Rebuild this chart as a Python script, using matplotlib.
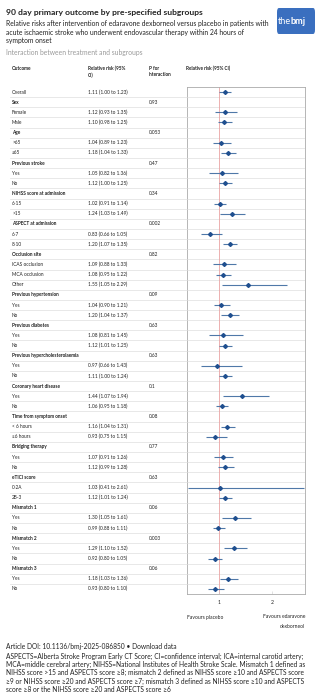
import numpy as np
import matplotlib
matplotlib.use("Agg")
import matplotlib.pyplot as plt
from matplotlib import transforms
from matplotlib.patches import FancyBboxPatch
from matplotlib.lines import Line2D

plt.rcParams['font.family'] = ['Lato', 'DejaVu Sans']

# ---------------- data ----------------
row_labels = ["Overall", "Sex", "Female", "Male", "Age", ">65", "≤65",
              "Previous stroke", "Yes", "No",
              "NIHSS score at admission", "6-15", ">15",
              "ASPECT at admission", "6-7", "8-10",
              "Occlusion site", "ICAS occlusion", "MCA occlusion", "Other",
              "Previous hypertension", "Yes", "No",
              "Previous diabetes", "Yes", "No",
              "Previous hypercholesterolaemia", "Yes", "No",
              "Coronary heart disease", "Yes", "No",
              "Time from symptom onset", "< 6 hours", "≥6 hours",
              "Bridging therapy", "Yes", "No",
              "eTICI score", "0-2A", "2B-3",
              "Mismatch 1", "Yes", "No",
              "Mismatch 2", "Yes", "No",
              "Mismatch 3", "Yes", "No"]
is_header = [False, True, False, False, True, False, False,
             True, False, False,
             True, False, False,
             True, False, False,
             True, False, False, False,
             True, False, False,
             True, False, False,
             True, False, False,
             True, False, False,
             True, False, False,
             True, False, False,
             True, False, False,
             True, False, False,
             True, False, False,
             True, False, False]
nan = np.nan
rr = [1.11, nan, 1.12, 1.10, nan, 1.04, 1.18, nan, 1.05, 1.12,
      nan, 1.02, 1.24, nan, 0.83, 1.20, nan, 1.09, 1.08, 1.55,
      nan, 1.04, 1.20, nan, 1.08, 1.12, nan, 0.97, 1.11, nan, 1.44, 1.06,
      nan, 1.16, 0.93, nan, 1.07, 1.12, nan, 1.03, 1.12,
      nan, 1.30, 0.99, nan, 1.29, 0.92, nan, 1.18, 0.93]
ci_low = [1.00, nan, 0.93, 0.98, nan, 0.89, 1.04, nan, 0.82, 1.00,
          nan, 0.91, 1.03, nan, 0.66, 1.07, nan, 0.88, 0.95, 1.05,
          nan, 0.90, 1.04, nan, 0.81, 1.01, nan, 0.66, 1.00, nan, 1.07, 0.95,
          nan, 1.04, 0.75, nan, 0.91, 0.99, nan, 0.41, 1.01,
          nan, 1.05, 0.88, nan, 1.10, 0.80, nan, 1.03, 0.80]
ci_high = [1.23, nan, 1.35, 1.25, nan, 1.23, 1.33, nan, 1.36, 1.25,
           nan, 1.14, 1.49, nan, 1.05, 1.35, nan, 1.33, 1.22, 2.29,
           nan, 1.21, 1.37, nan, 1.45, 1.25, nan, 1.43, 1.24, nan, 1.94, 1.18,
           nan, 1.31, 1.15, nan, 1.26, 1.28, nan, 2.61, 1.24,
           nan, 1.61, 1.11, nan, 1.52, 1.05, nan, 1.36, 1.10]
p_interaction = ["", "0.93", "", "", "0.053", "", "", "0.47", "", "",
                 "0.34", "", "", "0.002", "", "", "0.82", "", "", "",
                 "0.09", "", "", "0.63", "", "", "0.63", "", "", "0.1", "", "",
                 "0.08", "", "", "0.77", "", "", "0.63", "", "",
                 "0.06", "", "", "0.003", "", "", "0.06", "", ""]
x_ticks = [1, 2]

# ---------------- figure ----------------
W, H = 323, 700
fig = plt.figure(figsize=(W / 100, H / 100), dpi=100)
fig.patch.set_facecolor("white")

def fx(x):
    return x / W

def fy(y):
    return 1 - y / H

TXT = "#222222"
GRID = "#dedede"
TS = 3.45  # table font size

# title block
fig.text(fx(6), fy(12), "90 day primary outcome by pre-specified subgroups",
         fontsize=6.1, fontweight="bold", color=TXT, va="center", ha="left")
sub = ["Relative risks after intervention of edaravone dexborneol versus placebo in patients with",
       "acute ischaemic stroke who underwent endovascular therapy within 24 hours of",
       "symptom onset"]
for i, s in enumerate(sub):
    fig.text(fx(6), fy(23.5 + i * 8.6), s, fontsize=4.85, color=TXT, va="center", ha="left")
fig.text(fx(6), fy(53), "Interaction between treatment and subgroups",
         fontsize=4.85, color="#9a9a9a", va="center", ha="left")

# logo
logo = FancyBboxPatch((fx(277), fy(34)), fx(38), 26 / H,
                      boxstyle="round,pad=0,rounding_size=0.006",
                      transform=fig.transFigure, facecolor="#3a6fbf", edgecolor="none")
fig.add_artist(logo)
fig.text(fx(290.5), fy(21), "the", fontsize=6.6, color="white", ha="right", va="center")
fig.text(fx(290.5), fy(21), "bmj", fontsize=6.6, color="white", ha="left", va="center",
         fontweight="bold")

# column headers
hdr_kw = dict(fontsize=TS, fontweight="bold", color=TXT, va="center", ha="left")
fig.text(fx(12), fy(68), "Outcome", **hdr_kw)
fig.text(fx(88), fy(68), "Relative risk (95%", **hdr_kw)
fig.text(fx(88), fy(75), "CI)", **hdr_kw)
fig.text(fx(149), fy(68), "P for", **hdr_kw)
fig.text(fx(149), fy(75), "interaction", **hdr_kw)
fig.text(fx(186), fy(68), "Relative risk (95% CI)", **hdr_kw)

# forest axes
ax_left, ax_right, ax_top, ax_bot = 187, 305, 87, 594
ax = fig.add_axes([fx(ax_left), fy(ax_bot), fx(ax_right - ax_left), (ax_bot - ax_top) / H])
n = len(row_labels)
ys = np.arange(n)
ax.set_ylim(n - 0.5, -0.5)
ax.set_xlim(0.4, 2.62)

rr_a = np.array(rr)
lo_a = np.array(ci_low)
hi_a = np.array(ci_high)
ok = ~np.isnan(rr_a)
ax.axvline(1, color="#eaa3a3", lw=0.6, zorder=1)
ax.hlines(ys[ok], lo_a[ok], hi_a[ok], color="#4f78a8", lw=0.8, zorder=2)
ax.plot(rr_a[ok], ys[ok], marker="D", ms=2.0, color="#1f4f8f", lw=0, zorder=3)

for k in range(1, n):
    ax.axhline(k - 0.5, color=GRID, lw=0.5, zorder=0)

for s in ax.spines.values():
    s.set_color("#aaaaaa")
    s.set_linewidth(0.6)
ax.set_yticks([])
ax.set_xticks(x_ticks)
ax.set_xticklabels([str(t) for t in x_ticks])
ax.tick_params(axis="x", direction="in", length=2, width=0.4, color="#cccccc",
               labelsize=3.7, labelcolor=TXT, pad=4)

# table
trans = transforms.blended_transform_factory(fig.transFigure, ax.transData)
for i in range(n):
    fig.text(fx(12), i, row_labels[i], transform=trans, fontsize=TS,
             fontweight="bold" if is_header[i] else "normal",
             color=TXT, va="center", ha="left")
    if ok[i]:
        fig.text(fx(88), i, f"{rr_a[i]:.2f} ({lo_a[i]:.2f} to {hi_a[i]:.2f})",
                 transform=trans, fontsize=TS, color=TXT, va="center", ha="left")
    if p_interaction[i]:
        fig.text(fx(149), i, p_interaction[i], transform=trans, fontsize=TS,
                 color=TXT, va="center", ha="left")
    if i > 0:
        fig.add_artist(Line2D([fx(10), fx(ax_left)], [i - 0.5, i - 0.5], transform=trans,
                              color=GRID, lw=0.5))

# favours labels
fig.text(fx(187), fy(617), "Favours placebo", fontsize=3.6, color=TXT, ha="left", va="center")
fig.text(fx(305), fy(617), "Favours edaravone", fontsize=3.6, color=TXT, ha="right", va="center")
fig.text(fx(305), fy(626), "dexborneol", fontsize=3.6, color=TXT, ha="right", va="center")

# footer
fig.text(fx(6), fy(647), "Article DOI: 10.1136/bmj-2025-086850 \u2022 Download data",
         fontsize=4.8, color=TXT, ha="left", va="center")
foot = ["ASPECTS=Alberta Stroke Program Early CT Score; CI=confidence interval; ICA=internal carotid artery;",
        "MCA=middle cerebral artery; NIHSS=National Institutes of Health Stroke Scale. Mismatch 1 defined as",
        "NIHSS score >15 and ASPECTS score \u22658; mismatch 2 defined as NIHSS score \u226510 and ASPECTS score",
        "\u22659 or NIHSS score \u226520 and ASPECTS score \u22657; mismatch 3 defined as NIHSS score \u226510 and ASPECTS",
        "score \u22658 or the NIHSS score \u226520 and ASPECTS score \u22656"]
for i, s in enumerate(foot):
    fig.text(fx(6), fy(656 + i * 8.4), s, fontsize=4.8, color=TXT, ha="left", va="center")

fig.savefig("out.png", dpi=100, facecolor="white")
